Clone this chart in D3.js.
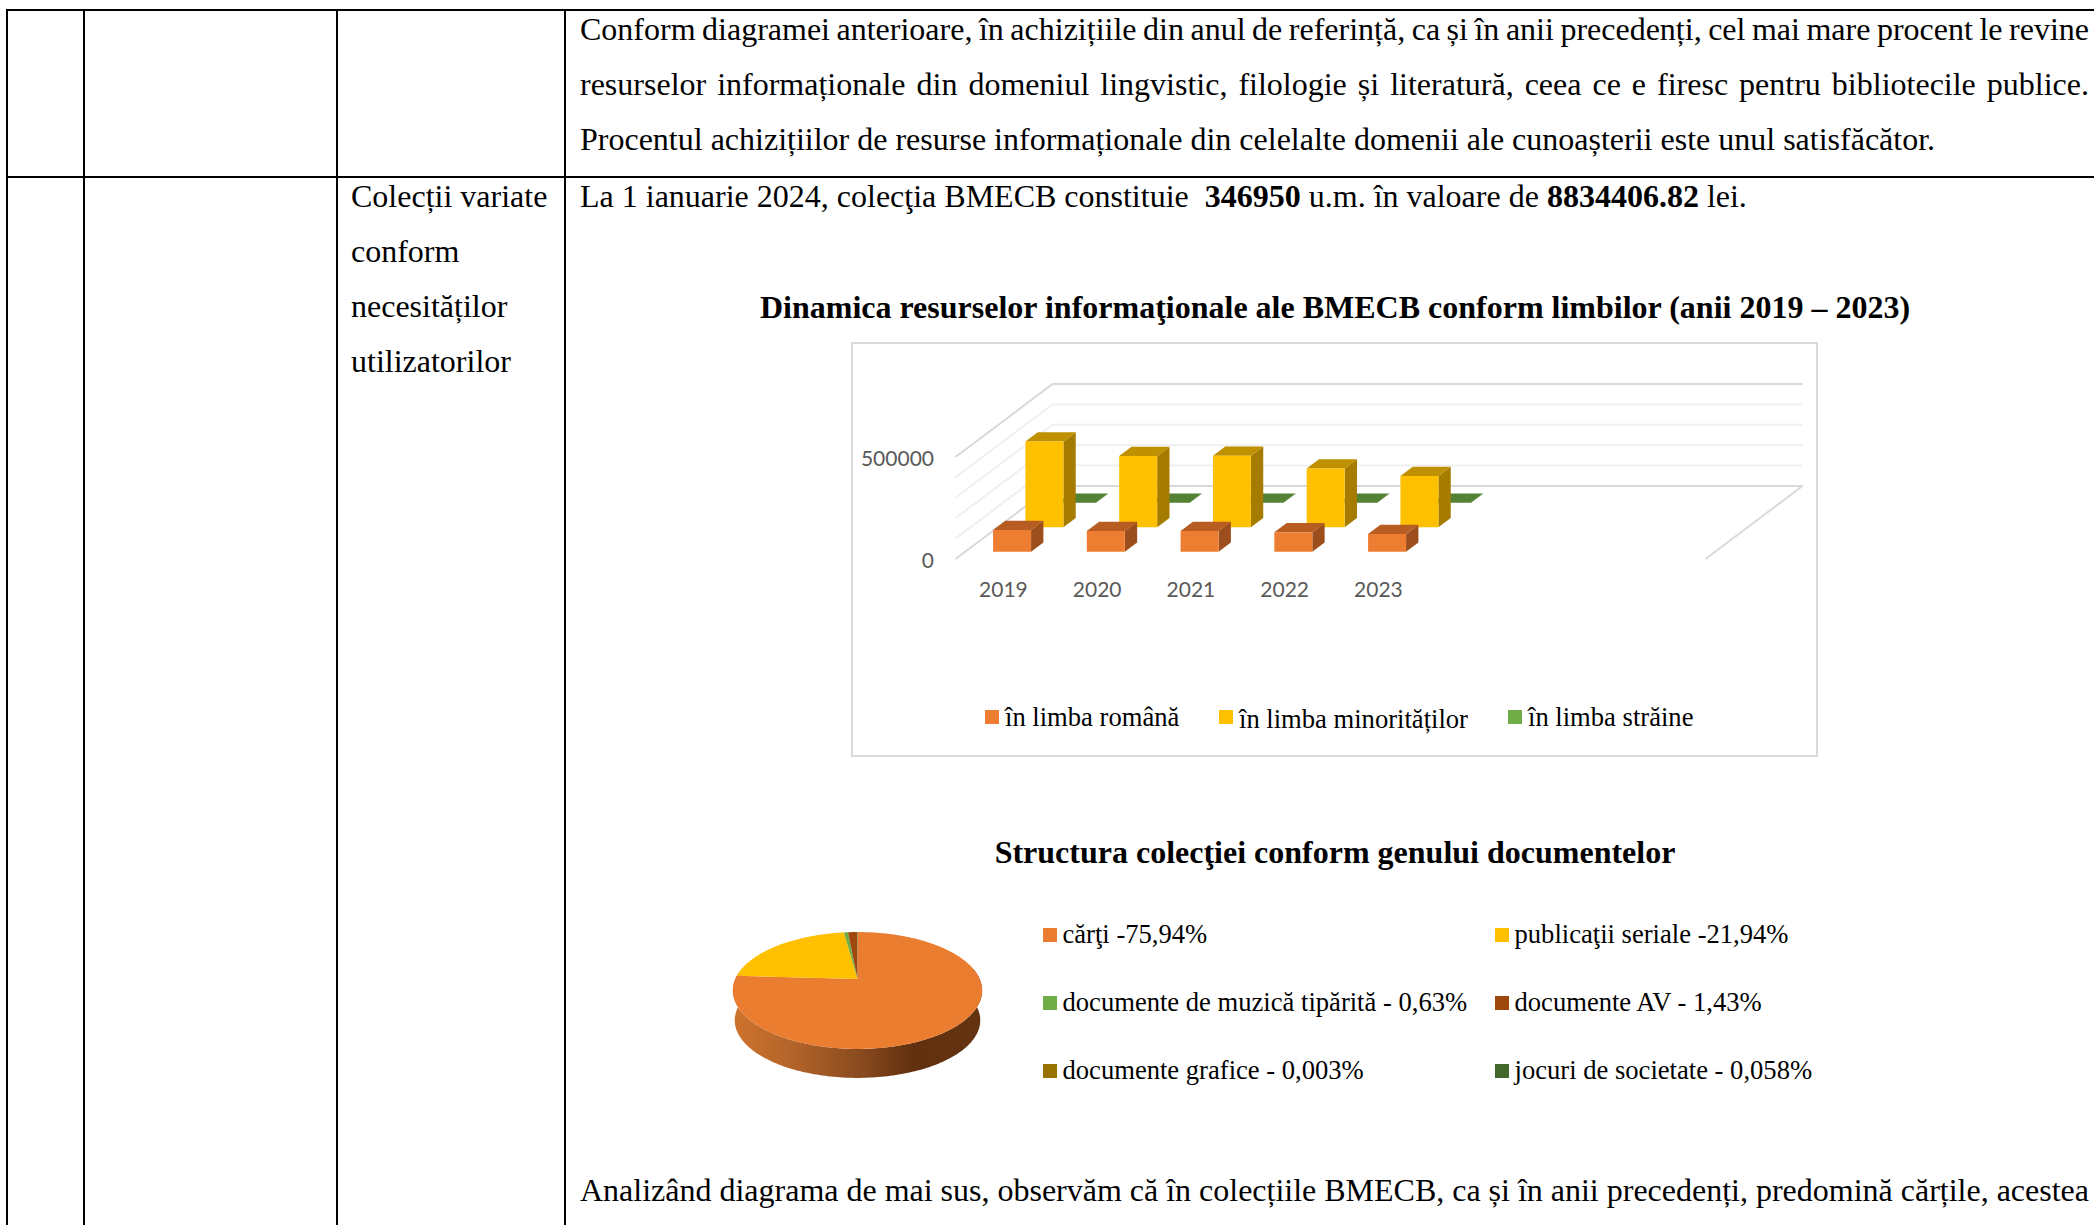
<!DOCTYPE html>
<html><head><meta charset="utf-8">
<script src="https://cdn.jsdelivr.net/npm/d3@7/dist/d3.min.js"></script>
<style>
html,body{margin:0;padding:0;background:#fff;overflow:hidden}
svg{display:block}
text{font-family:"Liberation Serif",serif;fill:#000}
.ax text{font-family:Lato,sans-serif;font-size:21px;fill:#595959}
</style></head><body>
<svg id="c" width="2094" height="1225"></svg>
<script>
// ---- data ----
const years = ["2019","2020","2021","2022","2023"];
const emptySlots = ["a","b","c"];
const seriesNames = ["în limba română","în limba minorităților","în limba străine"];
const romana = [106000,101000,101000,95000,87000];
const minoritati = [421000,350000,351000,288000,252000];
const straine = [1500,1500,1500,1500,1500];
const seriesValues = [romana,minoritati,straine];
const seriesColors = ["#ED7D31","#FFC000","#70AD47"];
const seriesTop = ["#B85D22","#BF9000","#548235"];
const seriesSide = ["#9C4F1C","#A67C00","#4A7330"];
const gridValues = [0,100000,200000,300000,400000,500000];
const axisLabels = [0,500000];
const pieLegendText = ["cărţi -75,94%","publicaţii seriale -21,94%","documente de muzică tipărită - 0,63%","documente AV - 1,43%","documente grafice - 0,003%","jocuri de societate - 0,058%"];
const pieValues = [75.94,21.94,0.63,1.43,0.003,0.058];
const pieColors = ["#EB7D31","#FFC000","#70AD47","#9E480E","#997300","#43682B"];
const paragraphTop = [
 "Conform diagramei anterioare, în achizițiile din anul de referință, ca și în anii precedenți, cel mai mare procent le revine",
 "resurselor informaționale din domeniul lingvistic, filologie și literatură, ceea ce e firesc pentru bibliotecile publice.",
 "Procentul achizițiilor de resurse informaționale din celelalte domenii ale cunoașterii este unul satisfăcător."];
const paragraphBottom = "Analizând diagrama de mai sus, observăm că în colecțiile BMECB, ca și în anii precedenți, predomină cărțile, acestea";
const columnThree = ["Colecții variate","conform","necesităților","utilizatorilor"];
const title1 = "Dinamica resurselor informaţionale ale BMECB conform limbilor (anii 2019 – 2023)";
const title2 = "Structura colecţiei conform genului documentelor";

const svg = d3.select("#c");
const FS = 32;

// ---- table ----
const tbl = svg.append("g").attr("stroke","#000").attr("stroke-width",2).attr("shape-rendering","crispEdges");
[10,177].forEach(y=>tbl.append("line").attr("x1",6).attr("x2",2094).attr("y1",y).attr("y2",y));
[7,84,337,565].forEach(x=>tbl.append("line").attr("x1",x).attr("x2",x).attr("y1",9).attr("y2",1225));

function justified(s,y,right){
  const t = svg.append("text").attr("x",580).attr("y",y).attr("font-size",FS).text(s);
  if(right){
    const n = t.node().getComputedTextLength();
    const spaces = s.split(" ").length-1;
    t.style("word-spacing",((right-580-n)/spaces)+"px");
  }
}
justified(paragraphTop[0],40,2089);
justified(paragraphTop[1],95,2089);
justified(paragraphTop[2],150);
justified(paragraphBottom,1201,2089);

columnThree.forEach((s,i)=>svg.append("text").attr("x",351).attr("y",207+i*55).attr("font-size",FS).text(s));

const la = svg.append("text").attr("x",580).attr("y",207).attr("font-size",FS).attr("xml:space","preserve");
la.append("tspan").text("La 1 ianuarie 2024, colecţia BMECB constituie  ");
la.append("tspan").attr("font-weight","bold").text("346950");
la.append("tspan").text(" u.m. în valoare de ");
la.append("tspan").attr("font-weight","bold").text("8834406.82");
la.append("tspan").text(" lei.");

svg.append("text").attr("x",1335).attr("y",318).attr("text-anchor","middle").attr("font-size",FS).attr("font-weight","bold").text(title1);
svg.append("text").attr("x",1335).attr("y",863).attr("text-anchor","middle").attr("font-size",FS).attr("font-weight","bold").text(title2);

// ---- 3D bar chart ----
svg.append("rect").attr("x",852).attr("y",343).attr("width",965).attr("height",413)
  .attr("fill","#fff").attr("stroke","#d9d9d9").attr("stroke-width",2);

const originX = 955.5, originY = 559, depthX = 97, depthY = 73;
const x = d3.scaleBand().domain(years.concat(emptySlots)).range([0,750]).paddingInner(0).paddingOuter(0);
const y = d3.scaleLinear().domain([0,500000]).range([0,102]);
const depth = d3.scaleLinear().domain([0,1]).range([0,1]);
const seriesDepth = d3.scaleLinear().domain([0,2]).range([0.1,0.767]);
const barWidth = 38, barDepth = 0.127;
const P = (u,t,v)=>[originX+u+depth(t)*depthX, originY-depth(t)*depthY-y(v)];
const poly = pts=>pts.map(p=>p.join(",")).join(" ");

const grid = svg.append("g").attr("fill","none").attr("stroke-width",2);
gridValues.forEach((v,i)=>{
  const col = (i===0||i===gridValues.length-1)?"#d9d9d9":"#f0f0f0";
  grid.append("polyline").attr("points",poly([P(0,0,v),P(0,1,v),P(750,1,v)])).attr("stroke",col);
});
grid.append("polyline").attr("points",poly([P(750,0,0),P(750,1,0)])).attr("stroke","#d9d9d9");

const bars = svg.append("g");
[2,1,0].forEach(s=>{
  years.forEach((yr,i)=>{
    const v = seriesValues[s][i];
    const u0 = x(yr)+(x.bandwidth()-barWidth)/2, u1 = u0+barWidth;
    const t0 = seriesDepth(s), t1 = t0+barDepth;
    const g = bars.append("g");
    g.append("polygon").attr("points",poly([P(u1,t0,0),P(u1,t1,0),P(u1,t1,v),P(u1,t0,v)])).attr("fill",seriesSide[s]);
    g.append("polygon").attr("points",poly([P(u0,t0,v),P(u1,t0,v),P(u1,t1,v),P(u0,t1,v)])).attr("fill",seriesTop[s]);
    g.append("polygon").attr("points",poly([P(u0,t0,0),P(u1,t0,0),P(u1,t0,v),P(u0,t0,v)])).attr("fill",seriesColors[s]);
  });
});

// axes
const yAxisScale = d3.scaleLinear().domain([0,500000]).range([originY,originY-102]);
const yAx = svg.append("g").attr("class","ax").attr("transform","translate(945,1)")
  .call(d3.axisLeft(yAxisScale).tickValues(axisLabels).tickFormat(d3.format("d")).tickSize(0).tickPadding(11));
yAx.select(".domain").remove();
yAx.selectAll("text").attr("dy","0.37em").attr("y",0);
const xAx = svg.append("g").attr("class","ax").attr("transform","translate("+(originX+1)+",579)")
  .call(d3.axisBottom(x).tickValues(years).tickSize(0).tickPadding(3));
xAx.select(".domain").remove();

// legend 1
const legend1X = [985,1219,1508], legend1Base = [726,728,726];
seriesNames.forEach((n,i)=>{
  svg.append("rect").attr("x",legend1X[i]).attr("y",710).attr("width",14).attr("height",14).attr("fill",seriesColors[i]);
  svg.append("text").attr("x",legend1X[i]+20).attr("y",legend1Base[i]).attr("font-size",26.6).text(n);
});

// ---- 3D pie ----
const pc = {x:857.5,y:979,a:122.2,b:56.2,k:-0.1966,drop:30};
const proj = (th,dy=0,sc=1)=>{
  const u=Math.sin(th), v=-Math.cos(th), w=1+pc.k*v;
  return [pc.x+sc*pc.a*u/w, pc.y+dy+sc*pc.b*v/w];
};
const arcs = d3.pie().sort(null).value(d=>d)(pieValues);
const defs = svg.append("defs");
const grad = defs.append("linearGradient").attr("id","side").attr("x1",0).attr("x2",1).attr("y1",0).attr("y2",0);
[[0,"#CF732E"],[0.22,"#B5652A"],[0.5,"#8C4C1F"],[0.72,"#62300F"],[1,"#643312"]].forEach(s=>
  grad.append("stop").attr("offset",s[0]).attr("stop-color",s[1]));
const line = d3.line();
const vStart = Math.PI/2-0.19, vEnd = 3*Math.PI/2+0.19;
const front = d3.range(vStart,vEnd,0.02).concat([vEnd]);
svg.append("path").attr("fill","url(#side)")
  .attr("d",line(front.map(t=>proj(t)).concat(front.slice().reverse().map(t=>proj(t,pc.drop,0.985))))+"Z");
const sliceG = svg.append("g");
arcs.forEach((d,i)=>{
  const n = Math.max(2,Math.ceil((d.endAngle-d.startAngle)/0.02));
  const pts = d3.range(n+1).map(j=>proj(d.startAngle+(d.endAngle-d.startAngle)*j/n));
  sliceG.append("path").attr("fill",pieColors[i]).attr("d",line([[pc.x,pc.y],...pts])+"Z");
});

// legend 2
const legend2X = [1043,1495], legend2Y = [928,996,1064];
pieLegendText.forEach((n,i)=>{
  const cx = legend2X[i%2], cy = legend2Y[Math.floor(i/2)];
  svg.append("rect").attr("x",cx).attr("y",cy).attr("width",14).attr("height",14).attr("fill",pieColors[i]);
  svg.append("text").attr("x",cx+19.5).attr("y",cy+15).attr("font-size",26.6).text(n);
});
</script>
</body></html>
